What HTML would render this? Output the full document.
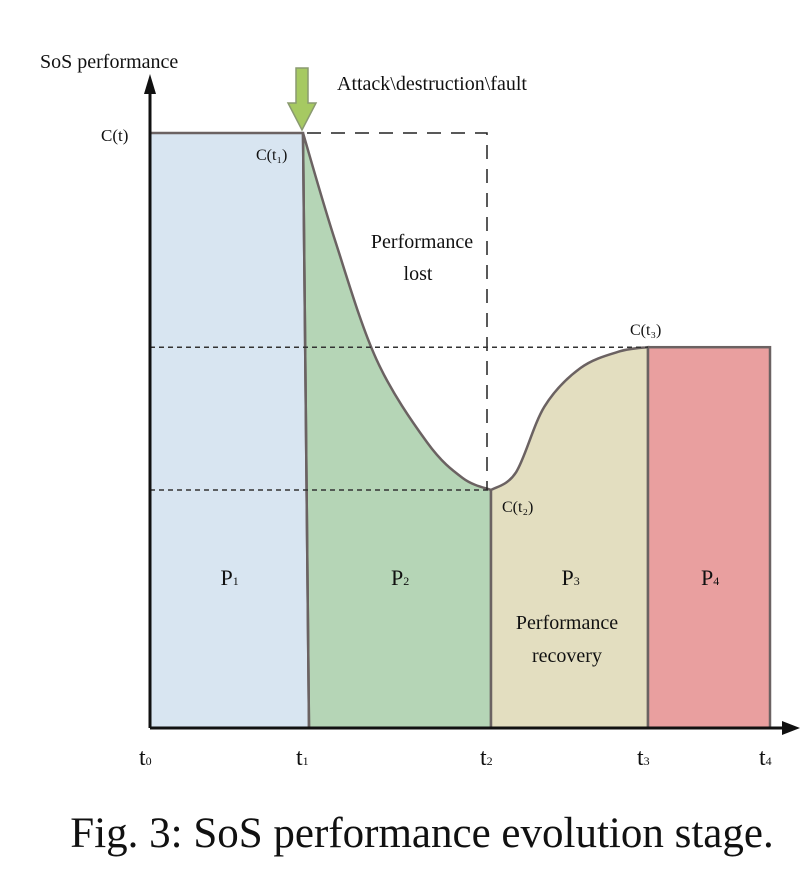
<!DOCTYPE html>
<html><head><meta charset="utf-8"><style>
body{margin:0;background:#fff;width:806px;height:891px;overflow:hidden}
svg text{font-family:"Liberation Serif",serif;fill:#111}
</style></head><body>
<svg width="806" height="891">
<g id="g"></g>
</svg>
<script>
const stages=["P1","P2","P3","P4"];
const times=[0,1,2,3,4];
const timeX=[150,307,491,648,770];
const levels=[1.0,0.40,0.64]; // C(t), C(t2), C(t3)
const dropCurve=[[0,1.0],[0.17,0.82],[0.39,0.62],[0.66,0.48],[0.85,0.42],[1,0.40]];
const riseCurve=[[0,0.40],[0.16,0.43],[0.34,0.54],[0.57,0.605],[0.82,0.633],[1,0.64]];
const y=v=>728-v*(728-133);
const g=document.getElementById('g');
const NS='http://www.w3.org/2000/svg';
function mk(t,a,txt){const e=document.createElementNS(NS,t);for(const k in a)e.setAttribute(k,a[k]);if(txt)e.textContent=txt;g.appendChild(e);return e;}
function seg(i,c){const x0=timeX[i]+(i==1?-4:0),x1=timeX[i+1];return c.map(p=>[x0+p[0]*(x1-x0),y(p[1])]);}
function sm(pts){let d='M'+pts[0];for(let i=1;i<pts.length;i++){const p0=pts[i-2]||pts[i-1],p1=pts[i-1],p2=pts[i],p3=pts[i+1]||p2;d+=` C${p1[0]+(p2[0]-p0[0])/6},${p1[1]+(p2[1]-p0[1])/6} ${p2[0]-(p3[0]-p1[0])/6},${p2[1]-(p3[1]-p1[1])/6} ${p2[0]},${p2[1]}`;}return d;}
const base=728,ln='#6b6262';
let e;
e=mk('path',{d:`M${timeX[0]},${y(levels[0])} L${timeX[1]-4},${y(levels[0])} L${timeX[1]+2},${base} L${timeX[0]},${base} Z`,fill:'#d8e5f1'});

const d1=seg(1,dropCurve);
e=mk('path',{d:sm(d1)+` L${timeX[2]},${base} L${timeX[1]+2},${base} Z`,fill:'#b5d5b6',stroke:ln,'stroke-width':2.5});

const d2=seg(2,riseCurve);
e=mk('path',{d:sm(d2)+` L${timeX[3]},${base} L${timeX[2]},${base} Z`,fill:'#e3dec0',stroke:ln,'stroke-width':2.5});

e=mk('rect',{x:timeX[3],y:y(levels[2]),width:timeX[4]-timeX[3],height:base-y(levels[2]),fill:'#e99f9f',stroke:ln,'stroke-width':2.5});

mk('path',{d:`M${timeX[0]},${y(levels[0])} L${timeX[1]-4},${y(levels[0])} L${timeX[1]+2},${base}`,fill:'none',stroke:ln,'stroke-width':2.5});
e=mk('path',{d:`M${timeX[1]},${y(levels[0])} H487 V${y(levels[1])}`,fill:'none',stroke:'#222','stroke-width':1.5,'stroke-dasharray':'14,10'});

[levels[1],levels[2]].forEach((v,i)=>{e=mk('line',{x1:timeX[0],x2:i?timeX[3]:timeX[2],y1:y(v),y2:y(v),stroke:'#333','stroke-width':1.5,'stroke-dasharray':'5,4'});
});
e=mk('path',{d:`M150,728 V80`,stroke:'#111','stroke-width':3});
mk('path',{d:'M144,94 L150,74 L156,94 Z',fill:'#111'});
e=mk('path',{d:`M150,728 H790`,stroke:'#111','stroke-width':3});
mk('path',{d:'M782,721 L800,728 L782,735 Z',fill:'#111'});
e=mk('path',{d:'M296,68 H308 V103 H316 L302,130 L288,103 H296 Z',fill:'#a6c962',stroke:'#8a9a70','stroke-width':1.5});

times.forEach((t,i)=>{e=mk('text',{x:timeX[i]-11,y:765,'font-size':24},'t');const s=document.createElementNS(NS,'tspan');s.setAttribute('font-size',12);s.textContent=t;e.appendChild(s);
});
stages.forEach((s,i)=>{const cx=(timeX[i]+timeX[i+1])/2;e=mk('text',{x:cx-8,y:585,'font-size':22},s[0]);const t=document.createElementNS(NS,'tspan');t.setAttribute('font-size',12);t.textContent=s[1];e.appendChild(t);
});
function T(x,yy,s,fs,n,anchor){e=mk('text',{x:x,y:yy,'font-size':fs,'text-anchor':anchor||'start'},s);}
T(40,68,'SoS performance',20,'y-axis-title');
T(337,90,'Attack\\destruction\\fault',20,'attack-label');
T(101,141,'C(t)',17,'c-t-label');
T(256,160,'C(t\u2081)',16,'c-t1-label');
T(502,512,'C(t\u2082)',16,'c-t2-label');
T(630,335,'C(t\u2083)',16,'c-t3-label');
T(422,248,'Performance',20,'performance-lost-label','middle');
T(418,280,'lost',20,'performance-lost-label-2','middle');
T(567,629,'Performance',20,'performance-recovery-label','middle');
T(567,662,'recovery',20,'performance-recovery-label-2','middle');
T(422,847,'Fig. 3: SoS performance evolution stage.',43,'figure-caption','middle');
</script>
</body></html>
